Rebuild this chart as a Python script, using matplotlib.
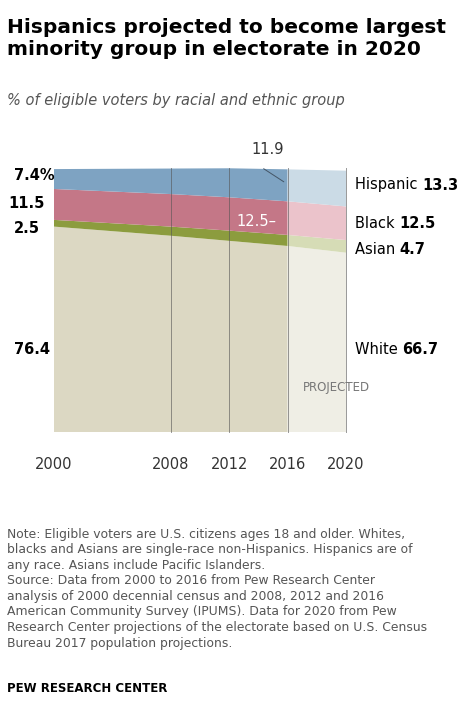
import matplotlib.pyplot as plt
import numpy as np

years = [2000, 2008, 2012, 2016]
white = [76.4, 73.0, 71.1, 69.2]
asian = [2.5, 3.4, 3.8, 4.1]
black = [11.5, 12.1, 12.4, 12.5]
hispanic = [7.4, 9.5, 10.8, 11.9]
proj_years = [2016, 2020]
white_p = [69.2, 66.7]
asian_p = [4.1, 4.7]
black_p = [12.5, 12.5]
hispanic_p = [11.9, 13.3]

fig = plt.figure(figsize=(4.6, 7.26), dpi=100)
ax = fig.add_axes([54/460, 1-432/726, 292/460, 264/726])
cols = ['#dcd8c3', '#8c9c3e', '#c47787', '#7ea3c2']
pcols = ['#efeee5', '#d6dcb6', '#ebc3cb', '#cbdbe6']
ax.stackplot(years, white, asian, black, hispanic, colors=cols, lw=0)
ax.stackplot(proj_years, white_p, asian_p, black_p, hispanic_p, colors=pcols, lw=0)
ax.set_xlim(2000, 2020)
ax.set_ylim(0, 98.2)
for x in [2008, 2012, 2016, 2020]:
    ax.axvline(x, color='#555555', lw=0.7, alpha=0.6, clip_on=False)
for s in ax.spines.values():
    s.set_visible(False)
ax.set_yticks([])
ax.set_xticks([2000, 2008, 2012, 2016, 2020])
ax.tick_params(axis='x', length=0, labelsize=10.5, colors='#333333', pad=18)

fs = 10.5
fig.text(0.015, 0.975, 'Hispanics projected to become largest\nminority group in electorate in 2020',
         fontsize=14.5, fontweight='bold', va='top', linespacing=1.2)
fig.text(0.015, 0.872, '% of eligible voters by racial and ethnic group', fontsize=10.5,
         style='italic', color='#555555', va='top')
for txt, y in [('7.4%', 176), ('11.5', 203), ('2.5', 228), ('76.4', 349)]:
    fig.text(8/460 if txt == '11.5' else 14/460, 1-y/726, txt, fontsize=fs, fontweight='bold', va='center')
def lab(name, val, y):
    t = fig.text(355/460, 1-y/726, name + ' ', fontsize=fs, va='center')
    fig.canvas.draw()
    bb = t.get_window_extent()
    fig.text(bb.x1/460, 1-y/726, val, fontsize=fs, fontweight='bold', va='center')
lab('Hispanic', '13.3', 185)
lab('Black', '12.5', 223)
lab('Asian', '4.7', 249)
lab('White', '66.7', 349)
fig.text(268/460, 1-149/726, '11.9', fontsize=fs, ha='center', va='center', color='#333333')
ax.annotate('', xy=(2015.9, 92.5), xytext=(2014.2, 98.5), annotation_clip=False,
            arrowprops=dict(arrowstyle='-', color='#445566', lw=0.7))
fig.text(276/460, 1-222/726, '12.5–', fontsize=fs, ha='right', va='center', color='white')
fig.text(303/460, 1-388/726, 'PROJECTED', fontsize=8.5, color='#777777', va='center')

note = ("Note: Eligible voters are U.S. citizens ages 18 and older. Whites,\n"
        "blacks and Asians are single-race non-Hispanics. Hispanics are of\n"
        "any race. Asians include Pacific Islanders.\n"
        "Source: Data from 2000 to 2016 from Pew Research Center\n"
        "analysis of 2000 decennial census and 2008, 2012 and 2016\n"
        "American Community Survey (IPUMS). Data for 2020 from Pew\n"
        "Research Center projections of the electorate based on U.S. Census\n"
        "Bureau 2017 population projections.")
fig.text(0.015, 1-528/726, note, fontsize=8.9, color='#555555', va='top', linespacing=1.25)
fig.text(0.015, 1-688/726, 'PEW RESEARCH CENTER', fontsize=8.5, fontweight='bold', va='center')
fig.savefig('out.png', dpi=100, facecolor='white')
